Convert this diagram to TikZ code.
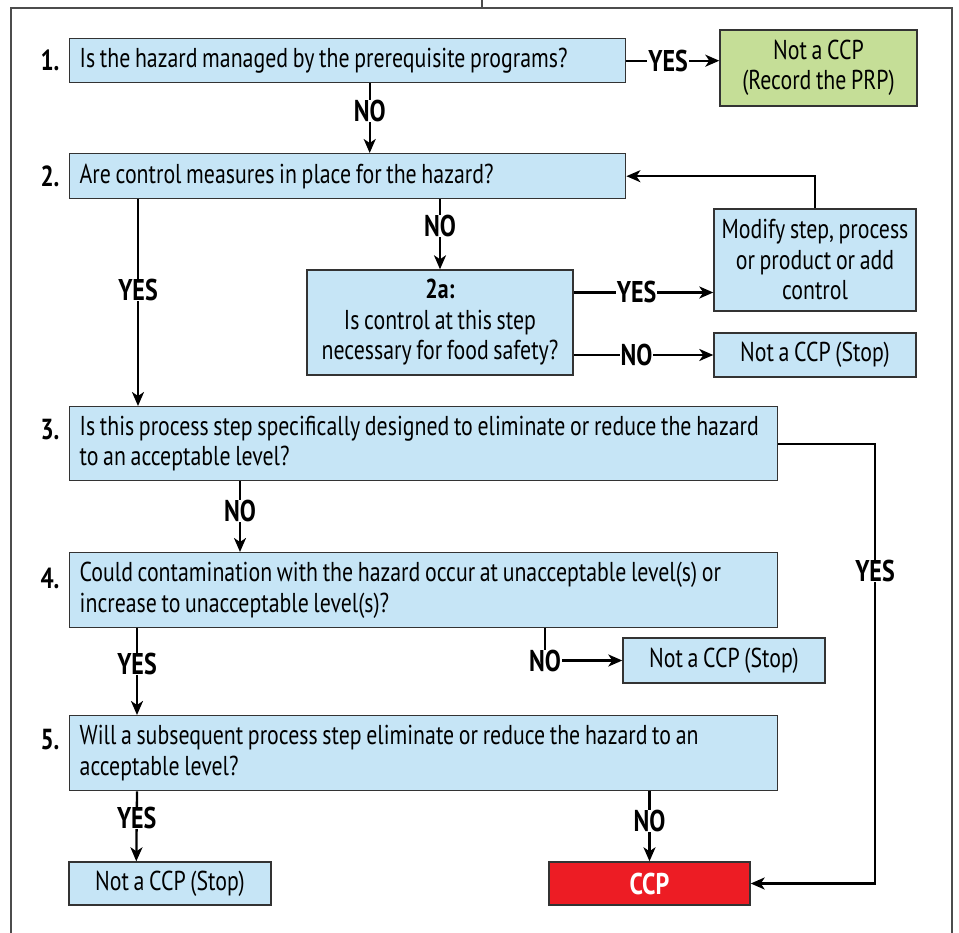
\documentclass[tikz,border=0pt]{standalone}
\usepackage{fontspec}
\setmainfont[FakeStretch=0.8, WordSpace=0.8]{PT Sans}
\usepackage{xcolor}
\usetikzlibrary{arrows.meta,positioning,calc}

\definecolor{qblue}{RGB}{198,229,246}
\definecolor{prpgreen}{RGB}{197,222,151}
\definecolor{ccpred}{RGB}{237,28,36}

\begin{document}
\begin{tikzpicture}[
  x=1pt, y=-1pt,
  every node/.style={font=\fontsize{27.3}{30.5}\selectfont},
  qbox/.style={rectangle, draw=black!80, line width=1.4pt, fill=qblue, anchor=north west, align=flush left, inner xsep=10pt, inner ysep=0pt},
  endbox/.style={rectangle, draw=black!80, line width=1.4pt, fill=qblue, align=center, inner sep=0pt},
  num/.style={font=\fontsize{29}{29}\selectfont\bfseries},
  ans/.style={font=\fontsize{30}{30}\selectfont\bfseries, fill=white, inner xsep=1pt, inner ysep=0pt},
  arrow/.style={-{Stealth[length=14pt,width=12pt,inset=4pt]}, line width=2.3pt}
]
\useasboundingbox (0,0) rectangle (959,933);
\draw[black!70, line width=1.3pt] (11,933) -- (11,8) -- (952,8) -- (952,933);
\draw[black!70, line width=1.3pt] (482,0) -- (482,8);

% question boxes
\node[qbox, text width=536pt, minimum height=44pt] (b1) at (69,38) {Is the hazard managed by the prerequisite programs?};
\node[qbox, text width=536pt, minimum height=45pt] (b2) at (69,153) {Are control measures in place for the hazard?};
\node[qbox, text width=688pt, minimum height=74pt] (b3) at (69,406) {Is this process step specifically designed to eliminate or reduce the hazard\\to an acceptable level?};
\node[qbox, text width=688pt, minimum height=75pt] (b4) at (69,552) {Could contamination with the hazard occur at unacceptable level(s) or\\increase to unacceptable level(s)?};
\node[qbox, text width=688pt, minimum height=75pt] (b5) at (69,715) {Will a subsequent process step eliminate or reduce the hazard to an\\acceptable level?};

\node[num] (n1) at (50,60) {1.};
\node[num] (n2) at (50,176) {2.};
\node[num] (n3) at (50,430) {3.};
\node[num] (n4) at (50,578) {4.};
\node[num] (n5) at (50,740) {5.};

% side boxes
\node[endbox, minimum width=266pt, minimum height=105pt] (b2a) at (440,322.5) {\textbf{2a:}\\Is control at this step\\necessary for food safety?};
\node[endbox, minimum width=197pt, minimum height=76pt, fill=prpgreen] (prp) at (818.5,68) {Not a CCP\\(Record the PRP)};
\node[endbox, minimum width=202pt, minimum height=102pt] (mod) at (815,260) {Modify step, process\\or product or add\\control};
\node[endbox, minimum width=202pt, minimum height=44pt] (stop2) at (815,355) {Not a CCP (Stop)};
\node[endbox, minimum width=202pt, minimum height=45pt] (stop4) at (724,660.5) {Not a CCP (Stop)};
\node[endbox, minimum width=202pt, minimum height=43pt] (stop5) at (170,883.5) {Not a CCP (Stop)};
\node[endbox, minimum width=201pt, minimum height=43pt, fill=ccpred, text=white, font=\fontsize{30}{30}\selectfont\bfseries] (ccp) at (649.5,883.5) {CCP};

\coordinate (y2a) at ([yshift=30pt]b2a.east);
\coordinate (yescol) at (875,0);
\coordinate (nocol) at (545,0);

% connectors
\draw[arrow] (b1.east) -- node[ans, pos=0.45]{YES} (prp.west |- b1.east);
\draw[arrow] ([xshift=22pt]b1.south) -- node[ans, pos=0.4]{NO} ([xshift=22pt]b2.north);
\draw[arrow] (b2.south -| b2a.north) -- node[ans, pos=0.38]{NO} (b2a.north);
\draw[arrow] ([xshift=69pt]b2.south west) -- node[ans, pos=0.44]{YES} ([xshift=69pt]b3.north west);
\draw[arrow] (y2a) -- node[ans, pos=0.45]{YES} (y2a -| mod.west);
\draw[arrow] (stop2.west -| b2a.east) -- node[ans, pos=0.45]{NO} (stop2.west);
\draw[arrow] (mod.north) |- (b2.east);
\draw[arrow] (b3.east) -| node[ans, pos=0.645]{YES} (ccp.east -| yescol) -- (ccp.east);
\draw[arrow] ([xshift=171pt]b3.south west) -- node[ans, pos=0.42]{NO} ([xshift=171pt]b4.north west);
\draw[arrow] ([xshift=68pt]b4.south west) -- node[ans, pos=0.41]{YES} ([xshift=68pt]b5.north west);
\draw[arrow] (b4.south -| nocol) |- node[ans, pos=0.5]{NO} (stop4.west);
\draw[arrow] ([xshift=68pt]b5.south west) -- node[ans, pos=0.38]{YES} ([xshift=68pt]stop5.north west);
\draw[arrow] (b5.south -| ccp.north) -- node[ans, pos=0.42]{NO} (ccp.north);
\end{tikzpicture}
\end{document}
